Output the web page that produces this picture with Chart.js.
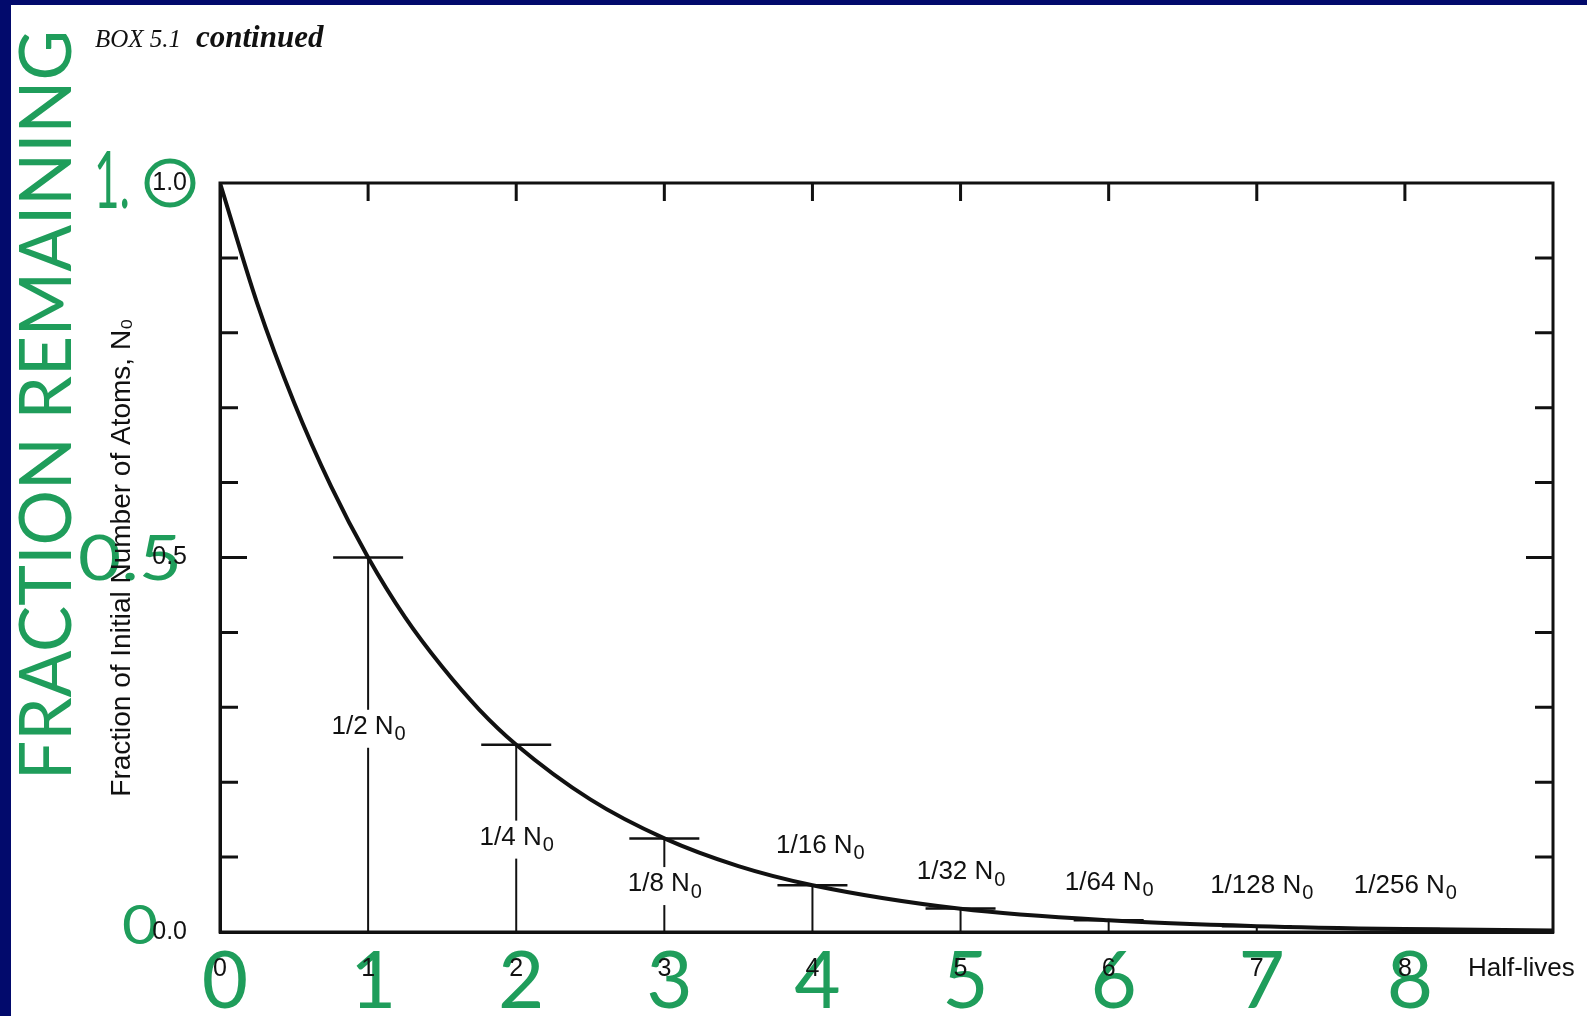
<!DOCTYPE html>
<html>
<head>
<meta charset="utf-8">
<title>Half-lives decay curve</title>
<script src="https://cdn.jsdelivr.net/npm/chart.js@4.4.1/dist/chart.umd.min.js"></script>
<style>
  html, body { margin: 0; padding: 0; background: #fff; }
  #wrap { width: 1587px; height: 1016px; }
</style>
</head>
<body>
<div id="wrap"><canvas id="decay" width="1587" height="1016"></canvas></div>
<script>
// curve: half-lives elapsed vs fraction of atoms left
const halfLives = [0, 0.25, 0.5, 0.75, 1, 1.25, 1.5, 1.75, 2, 2.5, 3, 3.5, 4, 5, 6, 7, 8, 9];
const fractionLeft = [1.0, 0.84, 0.707, 0.595, 0.5, 0.42, 0.354, 0.297, 0.25, 0.177, 0.125, 0.088, 0.0625, 0.031, 0.0156, 0.0078, 0.0039, 0.002];

// the marked half-lives, with a drop line and a label each
const markHalfLives = [1, 2, 3, 4, 5, 6, 7, 8];
const markFractions = [0.5, 0.25, 0.125, 0.0625, 0.03125, 0.015625, 0.0078125, 0.00390625];
const markNames = ['1/2', '1/4', '1/8', '1/16', '1/32', '1/64', '1/128', '1/256'];

const xTickValues = [0, 1, 2, 3, 4, 5, 6, 7, 8];
const yTickLabels = ['0.0', '0.5', '1.0'];
const yMinorTicks = [0.1, 0.2, 0.3, 0.4, 0.5, 0.6, 0.7, 0.8, 0.9];

const INK = '#111';
const GREEN = '#1f9d5b';
const NAVY = '#020a6c';
const SANS = '"Liberation Sans", Arial, Helvetica, sans-serif';
const SERIF = '"Liberation Serif", "Times New Roman", serif';
const HAND = 'Lato, "Noto Sans", sans-serif';

// where each "1/n N0" label sits, in data units (x, y)
const labelSpots = [[1, 0.274], [2, 0.126], [3, 0.064], [4.05, 0.115], [5, 0.08], [6, 0.066], [7.03, 0.062], [8, 0.062]];

function drawNLabel(ctx, name, cx, cy) {
  ctx.font = '26px ' + SANS;
  const main = name + ' N';
  const w1 = ctx.measureText(main).width;
  ctx.font = '20px ' + SANS;
  const w2 = ctx.measureText('0').width;
  const left = cx - (w1 + w2) / 2;
  ctx.fillStyle = '#fff';
  ctx.fillRect(left - 5, cy - 17, w1 + w2 + 10, 38);
  ctx.fillStyle = INK;
  ctx.textAlign = 'left';
  ctx.textBaseline = 'middle';
  ctx.font = '26px ' + SANS;
  ctx.fillText(main, left, cy);
  ctx.font = '20px ' + SANS;
  ctx.fillText('0', left + w1 + 1, cy + 8);
}

// green pen text; width squeezes it, null keeps natural width; centred on x
function handText(ctx, text, x, y, width, size, rot) {
  ctx.save();
  ctx.font = size + 'px ' + HAND;
  const w = ctx.measureText(text).width;
  const sx = width ? width / w : 1;
  ctx.translate(x, y);
  if (rot) ctx.rotate(rot);
  ctx.scale(sx, 1);
  ctx.fillStyle = GREEN;
  ctx.textAlign = 'center';
  ctx.textBaseline = 'middle';
  ctx.fillText(text, 0, 0);
  ctx.restore();
}

const pagePlugin = {
  id: 'page',
  beforeDraw(chart) {
    const ctx = chart.ctx;
    const xs = chart.scales.x;
    ctx.save();
    ctx.fillStyle = '#fff';
    ctx.fillRect(0, 0, chart.width, chart.height);
    ctx.fillStyle = NAVY;
    ctx.fillRect(0, 0, chart.width, 5);
    ctx.fillRect(0, 0, 11, chart.height);

    ctx.fillStyle = INK;
    ctx.textAlign = 'left';
    ctx.textBaseline = 'alphabetic';
    ctx.font = 'italic 25px ' + SERIF;
    ctx.fillText('BOX 5.1', 95, 47);
    ctx.font = 'italic bold 31px ' + SERIF;
    ctx.fillText('continued', 196, 47);

    // green pen notes, under the printed text
    handText(ctx, 'FRACTION REMAINING', 48, 405, 750, 72, -Math.PI / 2);
    handText(ctx, '1.', 112, 182, 36, 80);
    ctx.strokeStyle = GREEN;
    ctx.lineWidth = 5;
    ctx.beginPath();
    ctx.ellipse(170, 183, 23, 22, 0, 0, Math.PI * 2);
    ctx.stroke();
    handText(ctx, '0.5', 130, 560, 104, 62);
    handText(ctx, '0', 140, 927, 36, 54);
    xTickValues.forEach(v => {
      const px = xs.getPixelForValue(v);
      handText(ctx, String(v), px + 5, 982, null, 80);
    });
    ctx.restore();
  },
  beforeDatasetsDraw(chart) {
    const ctx = chart.ctx;
    const { left, right, top, bottom } = chart.chartArea;
    const xs = chart.scales.x, ys = chart.scales.y;
    ctx.save();
    ctx.strokeStyle = INK;
    ctx.lineCap = 'butt';

    // frame
    ctx.lineWidth = 3;
    ctx.strokeRect(left, top, right - left, bottom - top);

    // inward ticks
    ctx.beginPath();
    yMinorTicks.forEach(v => {
      const py = ys.getPixelForValue(v);
      const len = Math.abs(v - 0.5) < 1e-9 ? 27 : 18;
      ctx.moveTo(left, py); ctx.lineTo(left + len, py);
      ctx.moveTo(right, py); ctx.lineTo(right - len, py);
    });
    markHalfLives.forEach(v => {
      const px = xs.getPixelForValue(v);
      ctx.moveTo(px, top); ctx.lineTo(px, top + 18);
    });
    ctx.stroke();

    // drop lines with caps
    markHalfLives.forEach((v, i) => {
      const px = xs.getPixelForValue(v);
      const py = ys.getPixelForValue(markFractions[i]);
      ctx.lineWidth = 2;
      ctx.beginPath();
      ctx.moveTo(px, bottom); ctx.lineTo(px, py);
      ctx.stroke();
      ctx.lineWidth = 2.5;
      ctx.beginPath();
      ctx.moveTo(px - 35, py); ctx.lineTo(px + 35, py);
      ctx.stroke();
    });

    markNames.forEach((name, i) => {
      const [lx, ly] = labelSpots[i];
      drawNLabel(ctx, name, xs.getPixelForValue(lx), ys.getPixelForValue(ly));
    });
    ctx.restore();
  },
  afterDraw(chart) {
    const ctx = chart.ctx;
    const xs = chart.scales.x;
    ctx.save();
    ctx.fillStyle = INK;
    ctx.font = '26px ' + SANS;
    ctx.textAlign = 'left';
    ctx.textBaseline = 'middle';
    ctx.fillText('Half-lives', xs.getPixelForValue(8) + 63, 969);
    ctx.restore();
  }
};

new Chart(document.getElementById('decay').getContext('2d'), {
  type: 'line',
  data: {
    datasets: [{
      data: halfLives.map((x, i) => ({ x, y: fractionLeft[i] })),
      borderColor: INK,
      borderWidth: 4,
      pointRadius: 0,
      fill: false,
      cubicInterpolationMode: 'monotone'
    }]
  },
  options: {
    responsive: false,
    animation: false,
    layout: { padding: { left: 0, top: 183, right: 34, bottom: 0 } },
    plugins: { legend: { display: false }, tooltip: { enabled: false } },
    scales: {
      x: {
        type: 'linear',
        min: 0,
        max: 9,
        afterFit: s => { s.height = 84; },
        grid: { display: false, drawTicks: false },
        border: { display: true, color: INK, width: 3 },
        ticks: {
          stepSize: 1,
          autoSkip: false,
          maxRotation: 0,
          padding: 22,
          color: INK,
          font: { family: SANS, size: 25 },
          callback: v => xTickValues.includes(v) ? String(v) : ''
        }
      },
      y: {
        min: 0,
        max: 1,
        afterFit: s => { s.width = 220; },
        grid: { display: false, drawTicks: false },
        border: { display: true, color: INK, width: 3 },
        ticks: {
          stepSize: 0.1,
          autoSkip: false,
          padding: 33,
          color: INK,
          font: { family: SANS, size: 25 },
          callback: v => {
            const s = Number(v).toFixed(1);
            return yTickLabels.includes(s) ? s : '';
          }
        },
        title: {
          display: true,
          text: 'Fraction of Initial Number of Atoms, N₀',
          color: INK,
          font: { family: SANS, size: 28 },
          padding: { top: 105, bottom: 0 }
        }
      }
    }
  },
  plugins: [pagePlugin]
});
</script>
</body>
</html>
